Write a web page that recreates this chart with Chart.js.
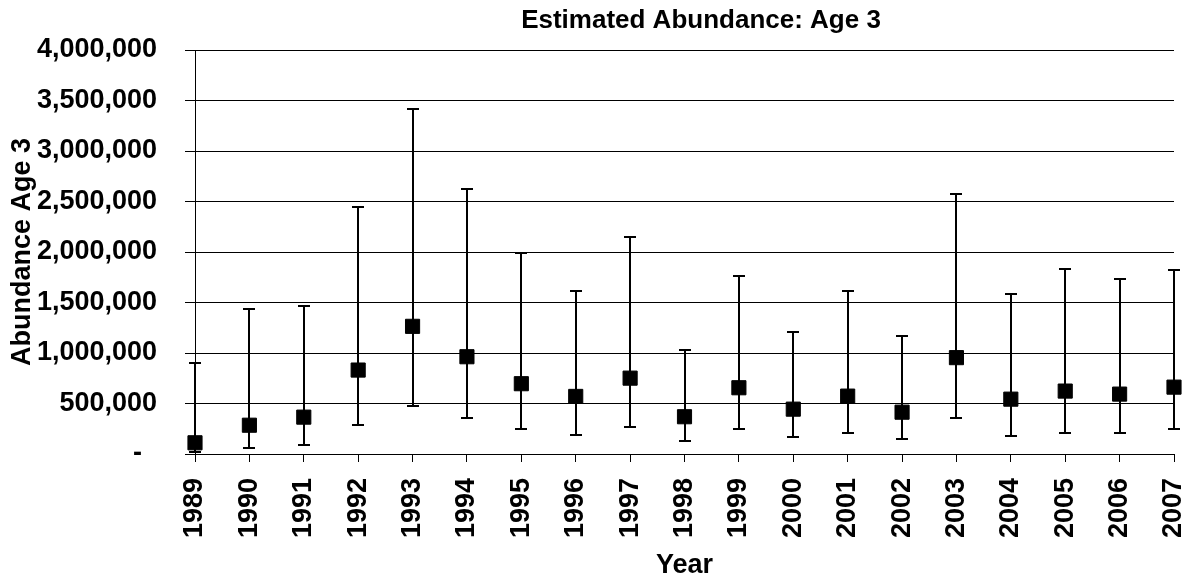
<!DOCTYPE html>
<html>
<head>
<meta charset="utf-8">
<title>Estimated Abundance: Age 3</title>
<script src="https://cdn.jsdelivr.net/npm/chart.js@4/dist/chart.umd.min.js"></script>
<style>
  html, body { margin: 0; padding: 0; background: #ffffff; }
  #wrap { width: 1192px; height: 579px; background: #ffffff; }
  canvas { display: block; background: #ffffff; }
</style>
</head>
<body>
<div id="wrap"><canvas id="chart" width="1192" height="579"></canvas></div>
<script>
// Survey years
const years = ['1989', '1990', '1991', '1992', '1993', '1994', '1995', '1996', '1997', '1998',
               '1999', '2000', '2001', '2002', '2003', '2004', '2005', '2006', '2007'];

// Point estimates of age-3 abundance
const estimates = [111000, 285000, 365000, 831000, 1264000, 963000, 696000, 570000, 751000, 369000,
                   656000, 444000, 573000, 414000, 954000, 543000, 623000, 593000, 662000];

// Upper and lower confidence limits
const upperLimits = [904000, 1439000, 1462000, 2441000, 3418000, 2619000, 1994000, 1614000, 2146000, 1029000,
                     1766000, 1207000, 1614000, 1172000, 2579000, 1588000, 1832000, 1730000, 1819000];
const lowerLimits = [18000, 55000, 91000, 283000, 471000, 355000, 243000, 190000, 266000, 127000,
                     243000, 167000, 203000, 144000, 359000, 180000, 203000, 203000, 246000];

// Y-axis tick labels (accounting style, zero shown as a dash)
const yTickLabels = ['-  ', '500,000', '1,000,000', '1,500,000', '2,000,000',
                     '2,500,000', '3,000,000', '3,500,000', '4,000,000'];

const chartTitle = 'Estimated Abundance: Age 3';
const yTitle = 'Abundance Age 3';
const xTitle = 'Year';

const FONT = "'Liberation Sans', Arial, Helvetica, sans-serif";

// Vertical error bars with caps, drawn beneath the square markers
const errorBars = {
  id: 'errorBars',
  beforeDatasetsDraw(chart) {
    const { ctx, scales: { x, y } } = chart;
    const cap = 6;
    ctx.save();
    ctx.strokeStyle = '#000000';
    ctx.lineWidth = 2;
    ctx.lineCap = 'butt';
    years.forEach((yr, i) => {
      const px = Math.round(x.getPixelForValue(i));
      const top = Math.round(y.getPixelForValue(upperLimits[i]));
      const bot = Math.round(y.getPixelForValue(lowerLimits[i]));
      ctx.beginPath();
      ctx.moveTo(px, top);
      ctx.lineTo(px, bot);
      ctx.moveTo(px - cap, top);
      ctx.lineTo(px + cap, top);
      ctx.moveTo(px - cap, bot);
      ctx.lineTo(px + cap, bot);
      ctx.stroke();
    });
    ctx.restore();
  }
};

// Chart heading, placed over the plot
const heading = {
  id: 'heading',
  afterDraw(chart) {
    const { ctx } = chart;
    ctx.save();
    ctx.font = 'bold 26px ' + FONT;
    ctx.fillStyle = '#000000';
    ctx.textAlign = 'center';
    ctx.textBaseline = 'alphabetic';
    ctx.fillText(chartTitle, 701, 28);
    ctx.restore();
  }
};

new Chart(document.getElementById('chart'), {
  type: 'line',
  data: {
    labels: years,
    datasets: [{
      label: yTitle,
      data: estimates,
      showLine: false,
      pointStyle: 'rect',
      pointRadius: 10,
      pointHoverRadius: 10,
      pointBackgroundColor: '#000000',
      pointBorderColor: '#000000',
      pointBorderWidth: 1,
      clip: false
    }]
  },
  options: {
    responsive: false,
    animation: false,
    events: [],
    layout: { padding: { top: 50, right: 18, left: 0, bottom: 0 } },
    plugins: {
      legend: { display: false },
      tooltip: { enabled: false },
      title: { display: false }
    },
    scales: {
      x: {
        type: 'category',
        offset: false,
        afterFit(scale) {
          scale.height = 125;
          scale.paddingLeft = 0;
          scale.paddingRight = 0;
        },
        border: { display: true, color: '#000000', width: 1 },
        grid: {
          display: true,
          drawOnChartArea: false,
          drawTicks: true,
          tickLength: 8,
          color: '#000000',
          lineWidth: 1
        },
        ticks: {
          autoSkip: false,
          minRotation: 90,
          maxRotation: 90,
          padding: 16,
          color: '#000000',
          font: { family: FONT, size: 27, weight: 'bold' }
        },
        title: {
          display: true,
          text: xTitle,
          color: '#000000',
          padding: { top: 0, bottom: 0 },
          font: { family: FONT, size: 27, weight: 'bold', lineHeight: 1 }
        }
      },
      y: {
        type: 'linear',
        min: 0,
        max: 4000000,
        afterFit(scale) {
          scale.width = 195;
          scale.paddingTop = 0;
          scale.paddingBottom = 0;
        },
        border: { display: true, color: '#000000', width: 1 },
        grid: {
          display: true,
          drawTicks: true,
          tickLength: 10,
          color: '#000000',
          lineWidth: 1
        },
        ticks: {
          stepSize: 500000,
          padding: 28,
          color: '#000000',
          font: { family: FONT, size: 27, weight: 'bold' },
          callback: (value, index) => yTickLabels[index]
        },
        title: {
          display: true,
          text: yTitle,
          color: '#000000',
          padding: { top: 9, bottom: 0 },
          font: { family: FONT, size: 27, weight: 'bold', lineHeight: 1 }
        }
      }
    }
  },
  plugins: [errorBars, heading]
});
</script>
</body>
</html>
